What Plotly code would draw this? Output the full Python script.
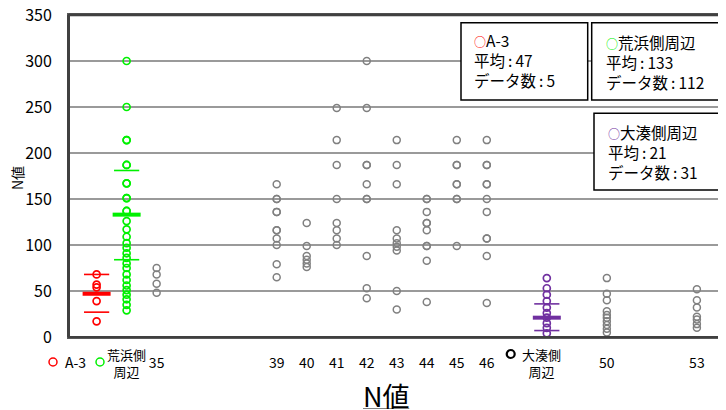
import plotly.graph_objects as go

# ---------------- data ----------------
# x positions: numbers are the depth labels, the three groups sit at 33, 34, 48
a3_x = 33
arahama_x = 34
oominato_x = 48

a3_values = [68, 57, 54, 39, 17]
arahama_values = [300, 250, 214, 214, 187, 187, 167, 167, 151, 151, 137, 137, 126, 117,
                  109, 102, 97, 91, 86, 80, 75, 68, 62, 56, 51, 46, 41, 35, 29]
oominato_values = [64, 53, 46, 39, 32, 26, 21, 15, 10, 4]

depth_labels = [35, 39, 40, 41, 42, 43, 44, 45, 46, 50, 53]
n35 = [75, 68, 58, 48]
n39 = [166, 150, 150, 136, 136, 116, 116, 107, 100, 79, 65]
n40 = [124, 99, 88, 84, 80, 76]
n41 = [249, 214, 187, 150, 124, 116, 107, 100]
n42 = [300, 249, 187, 187, 166, 150, 150, 88, 53, 42]
n43 = [214, 187, 166, 116, 107, 102, 98, 94, 50, 30]
n44 = [150, 150, 136, 124, 124, 116, 99, 99, 83, 38]
n45 = [214, 187, 187, 166, 166, 150, 150, 99]
n46 = [214, 187, 187, 166, 166, 150, 136, 107, 107, 88, 37]
n50 = [64, 47, 40, 28, 24, 21, 17, 13, 9, 5]
n53 = [52, 40, 32, 22, 19, 14, 10]
depth_values = [n35, n39, n40, n41, n42, n43, n44, n45, n46, n50, n53]

group_names = ["A-3", "荒浜側周辺", "大湊側周辺"]
group_x = [a3_x, arahama_x, oominato_x]
group_mean = [47, 133, 21]
group_sd_hi = [68, 181, 36]
group_sd_lo = [27, 84, 7]
group_count = [5, 112, 31]
group_colors = ["#FF0000", "#00F000", "#7030A0"]

y_ticks = [0, 50, 100, 150, 200, 250, 300, 350]

FONT = "Noto Sans CJK JP"

# The page body has an 8px margin, so the figure starts at (8, 8) in the window.
OFF = 8
W, H = 726 - OFF, 410 - OFF
# plot area in window pixels: x 69..723, y 15..337
PL, PR, PT, PB = 69, 723, 15, 337
L, R, T, B = PL - OFF, (W + OFF) - PR, PT - OFF, (H + OFF) - PB
PW, PH = PR - PL, PB - PT


def px(x):
    return (x - PL) / PW


def py(y):
    return (PB - y) / PH


fig = go.Figure()

# grey depth columns
for d, vals in zip(depth_labels, depth_values):
    fig.add_trace(go.Scatter(
        x=[d] * len(vals), y=vals, mode="markers", cliponaxis=False,
        marker=dict(symbol="circle-open", size=7, color="#808080",
                    line=dict(width=1.5, color="#808080")),
        showlegend=False, hoverinfo="y"))

# group columns
for gx, vals, col in zip(group_x, [a3_values, arahama_values, oominato_values], group_colors):
    fig.add_trace(go.Scatter(
        x=[gx] * len(vals), y=vals, mode="markers", cliponaxis=False,
        marker=dict(symbol="circle-open", size=7, color=col,
                    line=dict(width=1.7, color=col)),
        showlegend=False, hoverinfo="y"))

# mean and +-SD bars
for gx, m, hi, lo, col in zip(group_x, group_mean, group_sd_hi, group_sd_lo, group_colors):
    fig.add_trace(go.Scatter(
        x=[gx, gx], y=[hi, lo], mode="markers",
        marker=dict(symbol="line-ew-open", size=18, color=col,
                    line=dict(width=1.6, color=col)),
        showlegend=False, hoverinfo="y"))
    fig.add_trace(go.Scatter(
        x=[gx], y=[m], mode="markers",
        marker=dict(symbol="line-ew-open", size=20, color=col,
                    line=dict(width=4, color=col)),
        showlegend=False, hoverinfo="y"))

# plot-area frame (top edge drawn explicitly)
fig.add_shape(type="line", xref="paper", yref="paper", x0=0, x1=1, y0=1, y1=1,
              line=dict(color="#333333", width=2.5), layer="above")
fig.add_shape(type="rect", xref="paper", yref="paper", x0=0, x1=1, y0=0, y1=1,
              line=dict(color="#404040", width=2), fillcolor="rgba(0,0,0,0)", layer="above")

# info boxes (window pixels)
boxes = [
    (461, 587.7, 22.7, 100, 472, 59.5),
    (591.7, 719.3, 22.7, 100, 604, 61.7),
    (594, 720.7, 113.3, 190, 606, 152.5),
]
SEP = "\u2009:\u2009"
for (x0, x1, y0, y1, tx, ty), name, m, n, col in zip(
        boxes, group_names, group_mean, group_count, group_colors):
    fig.add_shape(type="rect", xref="paper", yref="paper",
                  x0=px(x0), x1=px(x1), y0=py(y1), y1=py(y0),
                  line=dict(color="#000000", width=1.5), fillcolor="white", layer="above")
    fig.add_annotation(
        xref="paper", yref="paper", x=px(tx), y=py(ty), xanchor="left", yanchor="middle",
        showarrow=False, align="left",
        text=(f"<span style='color:{col};font-size:12px'>○</span>{name}"
              f"<br>平均{SEP}{m}<br>データ数{SEP}{n}"),
        font=dict(family=FONT, size=15.5, color="#000000"))

# group labels under the axis
label_specs = [
    (53, 362, group_colors[0], 1.5),
    (100, 362, group_colors[1], 1.5),
    (510.7, 354, "#000000", 2.2),
]
for cx, cy, col, lw in label_specs:
    fig.add_shape(type="circle", xref="paper", yref="paper",
                  xsizemode="pixel", ysizemode="pixel",
                  xanchor=px(cx), yanchor=py(cy), x0=-4, x1=4, y0=-4, y1=4,
                  line=dict(color=col, width=lw))

fig.add_annotation(xref="paper", yref="paper", x=px(75), y=py(362),
                   xanchor="center", yanchor="middle", showarrow=False,
                   text="A-3", font=dict(family=FONT, size=14, color="#000"))
fig.add_annotation(xref="paper", yref="paper", x=px(126), y=py(363),
                   xanchor="center", yanchor="middle", showarrow=False,
                   text="荒浜側<br>周辺", font=dict(family=FONT, size=13, color="#000"))
fig.add_annotation(xref="paper", yref="paper", x=px(541), y=py(362.5),
                   xanchor="center", yanchor="middle", showarrow=False,
                   text="大湊側<br>周辺", font=dict(family=FONT, size=13, color="#000"))

# axis titles
fig.add_annotation(xref="paper", yref="paper", x=px(386.7), y=py(395),
                   xanchor="center", yanchor="middle", showarrow=False,
                   height=28, valign="middle",
                   text="<u>N値</u>", font=dict(family=FONT, size=27, color="#000"))
fig.add_annotation(xref="paper", yref="paper", x=px(17), y=py(178),
                   xanchor="center", yanchor="middle", showarrow=False, textangle=-90,
                   text="N値", font=dict(family=FONT, size=14, color="#000"))

fig.update_xaxes(range=[32.08, 53.87], tickvals=depth_labels,
                 ticktext=[str(d) for d in depth_labels],
                 ticks="outside", ticklen=12, tickcolor="rgba(0,0,0,0)",
                 ticklabeloverflow="allow", automargin=False,
                 tickfont=dict(family=FONT, size=14, color="#000"),
                 showgrid=False, zeroline=False,
                 showline=True, linecolor="#595959", linewidth=2, mirror=True)
fig.update_yaxes(range=[0, 350], tickvals=y_ticks, ticktext=[str(v) for v in y_ticks],
                 ticks="outside", ticklen=12, tickcolor="rgba(0,0,0,0)",
                 ticklabeloverflow="allow", automargin=False,
                 tickfont=dict(family=FONT, size=16, color="#000"),
                 showgrid=True, gridcolor="#9a9a9a", gridwidth=1.5, zeroline=False,
                 showline=True, linecolor="#404040", linewidth=2, mirror=True)

fig.update_layout(width=W, height=H, margin=dict(l=L, r=R, t=T, b=B),
                  plot_bgcolor="white", paper_bgcolor="white",
                  font=dict(family=FONT), showlegend=False)

fig.write_html("out.html")
